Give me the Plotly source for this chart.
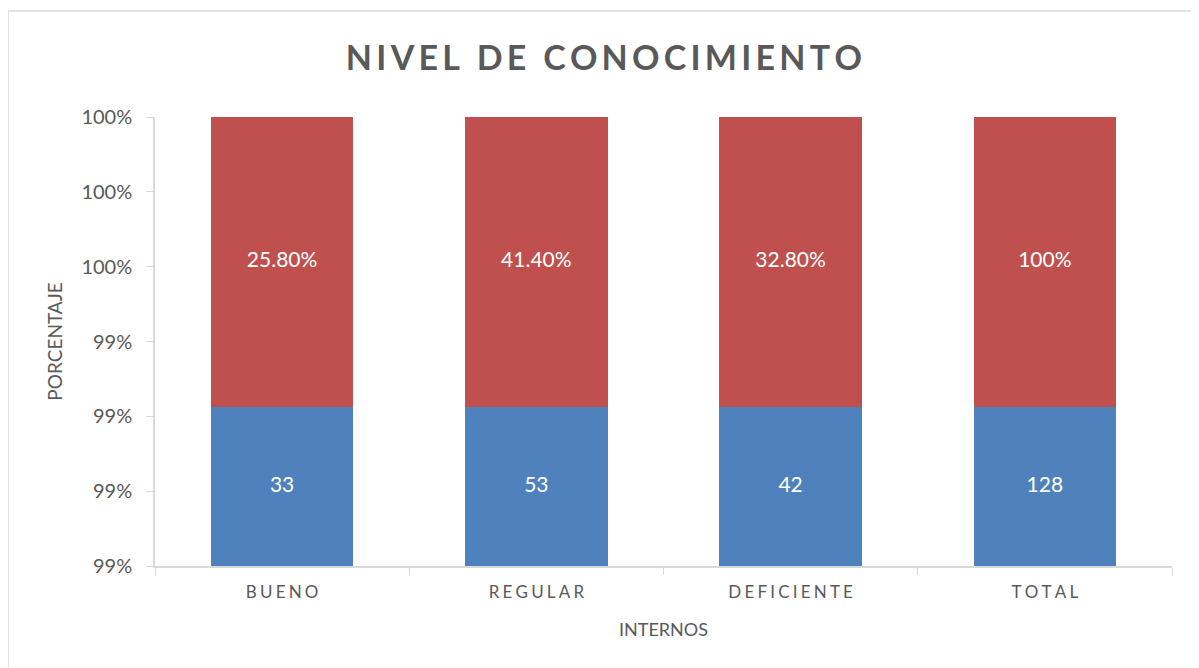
# Nivel de conocimiento - barras apiladas al 100% (eje recortado como en el original)

import plotly.graph_objects as go

categorias = ['BUENO', 'REGULAR', 'DEFICIENTE', 'TOTAL']
frecuencia = [33, 53, 42, 128]
porcentaje = [0.258, 0.414, 0.328, 1.0]
ticks_y = [98.8, 99.0, 99.2, 99.4, 99.6, 99.8, 100.0]

AZUL = '#4F81BD'
ROJO = '#C0504D'
GRIS = '#595959'
BORDE = '#D9D9D9'
FUENTE = 'Lato'


def espaciar(txt, sep='\u2009'):
    """Imita el espaciado de letras de Excel"""
    return sep.join(txt)


etiquetas_x = [espaciar(c, '\u2009\u200a') for c in categorias]
texto_pct = ['100%' if p == 1 else f'{p * 100:.2f}%' for p in porcentaje]

# posiciones de los rótulos: centro de la parte visible de cada segmento
cuota = [f / (f + p) * 100 for f, p in zip(frecuencia, porcentaje)]
y_min, y_max = ticks_y[0], ticks_y[-1]
y_azul = [(y_min + c) / 2 for c in cuota]
y_rojo = [(c + y_max) / 2 for c in cuota]

fig = go.Figure()

fig.add_trace(go.Bar(
    x=etiquetas_x, y=frecuencia, marker_color=AZUL,
    marker_line_width=0, name='Frecuencia'
))
fig.add_trace(go.Bar(
    x=etiquetas_x, y=porcentaje, marker_color=ROJO,
    marker_line_width=0, name='Porcentaje'
))

# rótulos de datos
fig.add_trace(go.Scatter(
    x=etiquetas_x, y=y_azul, mode='text', text=[str(f) for f in frecuencia],
    textfont=dict(color='white', size=21, family=FUENTE), hoverinfo='skip'
))
fig.add_trace(go.Scatter(
    x=etiquetas_x, y=y_rojo, mode='text', text=texto_pct,
    textfont=dict(color='white', size=21, family=FUENTE), hoverinfo='skip'
))

# la página añade 8px de margen, se compensa en los márgenes
fig.update_layout(
    barmode='stack',
    barnorm='percent',
    bargap=0.44,
    showlegend=False,
    width=1199, height=668,
    margin=dict(l=147, r=35, t=109, b=110),
    paper_bgcolor='white', plot_bgcolor='white',
    font=dict(family=FUENTE, color=GRIS),
    title=dict(
        text='<b>' + espaciar('NIVEL DE CONOCIMIENTO') + '</b>',
        x=0.497, xanchor='center', y=0.925, yanchor='middle',
        font=dict(size=34, color=GRIS, family=FUENTE)
    ),
    xaxis=dict(
        title=dict(text='INTERNOS', font=dict(size=18, color=GRIS), standoff=22),
        showline=True, linecolor=BORDE, linewidth=1.5,
        ticks='outside', tickson='boundaries', ticklen=7, tickcolor=BORDE,
        ticklabelstandoff=10,
        tickfont=dict(size=17, color=GRIS), showgrid=False
    ),
    yaxis=dict(
        title=dict(text='PORCENTAJE', font=dict(size=19, color=GRIS), standoff=14),
        range=[y_min, y_max],
        tickvals=ticks_y, ticktext=[f'{v:.0f}%' for v in ticks_y],
        showline=True, linecolor=BORDE, linewidth=1.5,
        ticks='outside', ticklen=7, tickcolor=BORDE,
        ticklabelstandoff=10,
        tickfont=dict(size=20, color=GRIS), showgrid=False, zeroline=False
    ),
    shapes=[dict(
        type='rect', xref='paper', yref='paper',
        x0=-0.1445, x1=1.1, y0=-0.4, y1=1.236,
        line=dict(color=BORDE, width=1.5), fillcolor='rgba(0,0,0,0)', layer='below'
    )]
)

fig.write_html('out.html')
